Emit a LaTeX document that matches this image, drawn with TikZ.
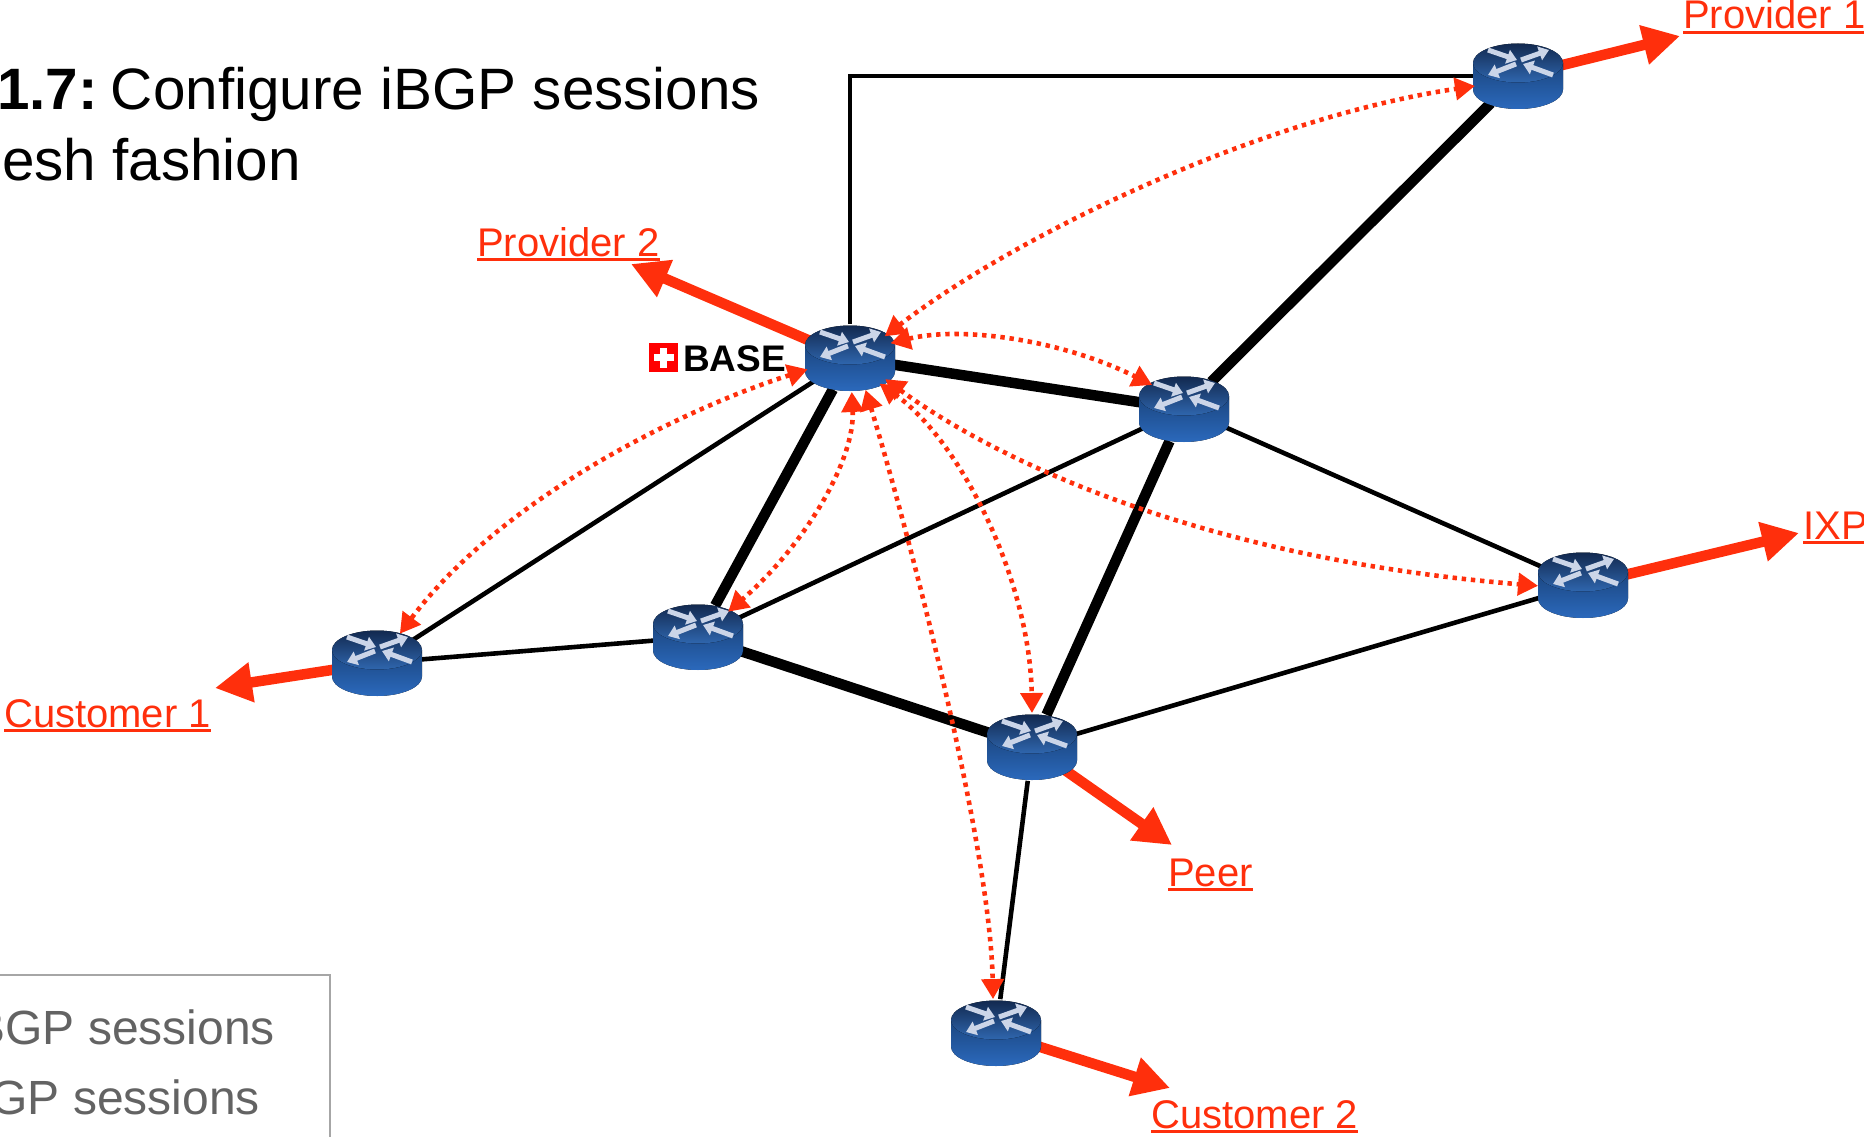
\documentclass[tikz,border=0pt]{standalone}
\usepackage{fontspec}
\setmainfont{Liberation Sans}
\usetikzlibrary{arrows.meta,backgrounds,shapes.geometric}
\definecolor{redc}{HTML}{FF2F0C}
\definecolor{greyt}{HTML}{636363}
\definecolor{arrw}{HTML}{CBD5E8}
\definecolor{rbody1}{HTML}{1B4680}
\definecolor{rbody2}{HTML}{2B69BC}
\definecolor{rtop1}{HTML}{12294F}
\definecolor{rtop2}{HTML}{2F66AE}
\tikzset{
  routernode/.style={ellipse,minimum width=90pt,minimum height=68pt,inner sep=0pt,outer sep=0pt},
  routerarrow/.style={draw=arrw,line width=5pt,-{Triangle[length=10pt,width=14pt,fill=arrw]}},
  routerpic/.pic={
    \fill[top color=rbody1,bottom color=rbody2] (-45,-13) -- (-45,13.5) arc[start angle=180,end angle=360,x radius=45pt,y radius=19.5pt] -- (45,-13) -- cycle;
    \fill[top color=rtop1,bottom color=rtop2] (0,-13) ellipse[x radius=45pt,y radius=19.5pt];
    \draw[routerarrow] (-30,-26) -- (-1,-16);
    \draw[routerarrow] (3,-16) -- (31,-26);
    \draw[routerarrow] (-2,-12) -- (-30,-1);
    \draw[routerarrow] (35,-1) -- (5,-12);
  },
  thickedge/.style={draw=black,line width=10.5pt},
  thinedge/.style={draw=black,line width=4.6pt},
  extlink/.style={draw=redc,line width=10.5pt,-{Triangle[length=37pt,width=38pt,fill=redc]}},
  sess/.style={draw=redc,line width=4.6pt,dash pattern=on 4.4pt off 4.8pt,{Triangle[length=20pt,width=22pt,fill=redc]}-{Triangle[length=20pt,width=22pt,fill=redc]}},
  extlabel/.style={text=redc,font=\fontsize{40}{48}\selectfont,anchor=base west,inner sep=0pt},
  titletext/.style={font=\fontsize{58.4}{70}\selectfont,anchor=base west,inner sep=0pt},
  legendtext/.style={text=greyt,font=\fontsize{48}{58}\selectfont,anchor=base east,inner sep=0pt},
}
\newcommand\routerat[2]{\node[routernode] (#1) at (#2) {}; \pic at (#1) {routerpic};}
\newcommand\ulabel[1]{\setbox0=\hbox{#1}\rlap{\rule[-5pt]{\wd0}{2.6pt}}\box0 }
\begin{document}
\begin{tikzpicture}[x=1pt,y=-1pt]
\useasboundingbox (0,0) rectangle (1864,1137);
\routerat{base}{850,358}
\routerat{rone}{1518,76}
\routerat{rtwo}{1184,409}
\routerat{rix}{1583,585}
\routerat{rlow}{698,637}
\routerat{rcust}{377,663}
\routerat{rmid}{1032,747}
\routerat{rbot}{996,1033}
\coordinate (tpone) at (1680,36);
\coordinate (tptwo) at (631,264);
\coordinate (tix) at (1799,533);
\coordinate (tcust) at (215,688);
\coordinate (tpeer) at (1172,845);
\coordinate (tcusttwo) at (1170,1088);
\begin{pgfonlayer}{background}
\draw[thinedge] (base) |- (rone);
\draw[thinedge] (base) -- (rcust);
\draw[thinedge] (rtwo) -- (rlow);
\draw[thinedge] (rtwo) -- (rix);
\draw[thinedge] (rmid) -- (rix);
\draw[thinedge] (rcust) -- (rlow);
\draw[thinedge] (rmid) -- (rbot);
\draw[thickedge] (base) -- (rtwo);
\draw[thickedge] (base) -- (rlow);
\draw[thickedge] (rone) -- (rtwo);
\draw[thickedge] (rtwo) -- (rmid);
\draw[thickedge] (rlow) -- (rmid);
\draw[extlink] (rone) -- (tpone);
\draw[extlink] (base) -- (tptwo);
\draw[extlink] (rix) -- (tix);
\draw[extlink] (rcust) -- (tcust);
\draw[extlink] (rmid) -- (tpeer);
\draw[extlink] (rbot) -- (tcusttwo);
\end{pgfonlayer}
\draw[sess] (base.32) .. controls (1010,240) and (1250,120) .. (rone.193);
\draw[sess] (base.20) .. controls (960,326) and (1060,339) .. (rtwo.143);
\draw[sess] (base.-31) .. controls (1010,470) and (1220,560) .. (rix.181);
\draw[sess] (base.-41) .. controls (960,440) and (1030,580) .. (rmid.90);
\draw[sess] (base.-64) .. controls (905,520) and (990,840) .. (rbot.95);
\draw[sess] (base.-87) .. controls (855,460) and (805,545) .. (rlow.40);
\draw[sess] (base.195) .. controls (680,410) and (500,500) .. (rcust.52);
\node[extlabel] (lpone) at (1683,29) {\ulabel{Provider 1}};
\node[extlabel] (lptwo) at (477,256) {\ulabel{Provider 2}};
\node[extlabel] (lix) at (1803,539) {\ulabel{IXP}};
\node[extlabel] (lcust) at (4,727) {\ulabel{Customer 1}};
\node[extlabel] (lpeer) at (1168,886) {\ulabel{Peer}};
\node[extlabel] (lcusttwo) at (1151,1128) {\ulabel{Customer 2}};
\node[fill=red,minimum width=29pt,minimum height=29pt,inner sep=0pt] (flag) at (663.5,357.5) {};
\fill[white] ([xshift=-10pt,yshift=3.5pt]flag.center) rectangle ([xshift=10pt,yshift=-3.5pt]flag.center);
\fill[white] ([xshift=-3.5pt,yshift=10pt]flag.center) rectangle ([xshift=3.5pt,yshift=-10pt]flag.center);
\node[anchor=base west,inner sep=0pt,font=\fontsize{37}{43}\selectfont\bfseries] (basetext) at (683,371) {BASE};
\node[titletext] (tone) at (-3,110) {\textbf{1.7:}\hspace{-8.5pt} Configure iBGP sessions};
\node[titletext] (ttwo) at (2,180) {esh fashion};
\draw[draw=black!35,line width=1.5pt] (-5,975) -- (330,975) -- (330,1142);
\node[legendtext] (lgone) at (275,1044) {BGP sessions};
\node[legendtext] (lgtwo) at (260,1114) {GP sessions};
\end{tikzpicture}
\end{document}
